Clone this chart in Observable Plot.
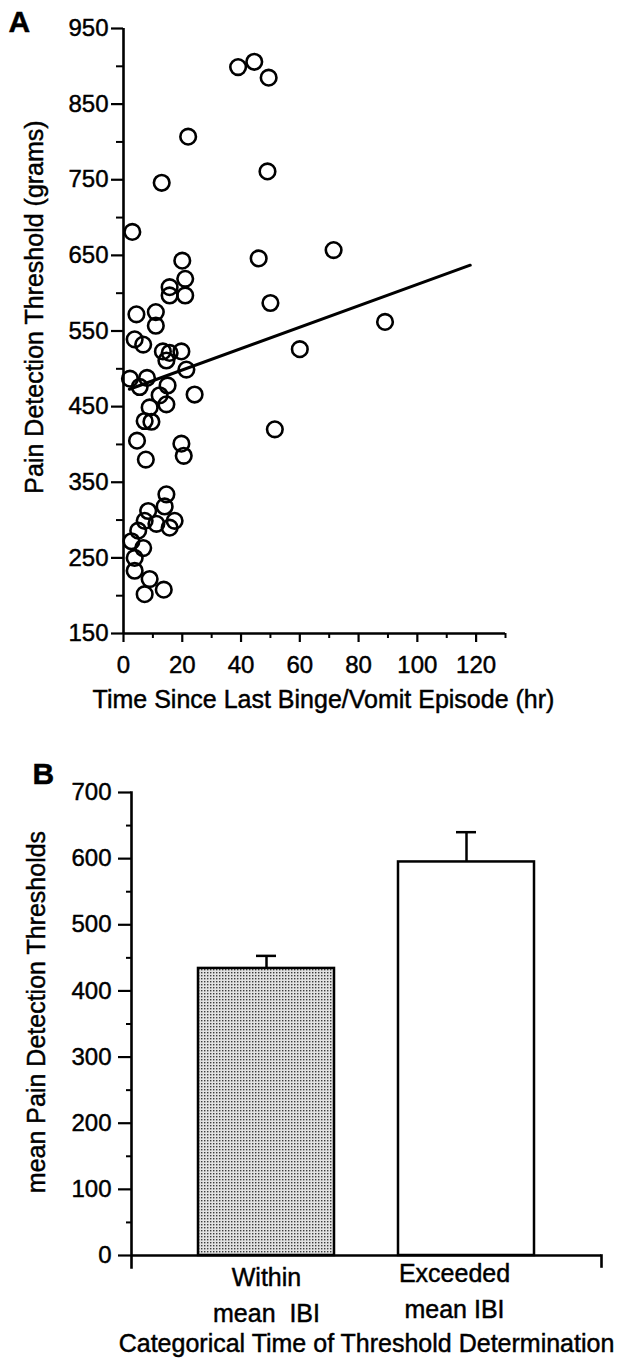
<!DOCTYPE html>
<html><head><meta charset="utf-8">
<script src="https://cdn.jsdelivr.net/npm/d3@7"></script>
<script src="https://cdn.jsdelivr.net/npm/@observablehq/plot@0.6"></script>
<style>
body{margin:0;background:#fff;}
#wrap{width:624px;height:1360px;overflow:hidden;}
svg{display:block;}
svg text{stroke:#000;stroke-width:0.45px;}
</style></head><body><div id="wrap"></div>
<script>
// ---- Panel A data ----
const hours = [39, 44.5, 49.4, 22, 49, 13, 3, 20, 46, 21, 15.7, 15.7, 21, 50, 4.4, 11, 11, 3.8, 6.7, 60,
  13.4, 15.7, 19.7, 14.6, 21.4, 2.2, 8, 5.5, 15, 12.3, 24.2, 14.6, 8.9, 7.2, 9.5, 51.5, 4.6, 19.7, 20.5, 7.6,
  14.6, 14, 8.4, 7.2, 17.4, 11.2, 15.7, 5, 2.7, 6.7, 3.8, 3.8, 8.9, 7.2, 13.7, 71.5, 89];
const thresholds = [899, 906, 885, 807, 761, 746, 681, 643, 646, 619, 608, 597, 597, 587, 572, 575, 557, 539, 532, 526,
  523, 521, 523, 511, 499, 487, 488, 476, 478, 465, 466, 453, 449, 431, 430, 420, 405, 401, 385, 380,
  334, 318, 312, 299, 299, 295, 290, 286, 272, 263, 250, 233, 222, 202, 208, 657, 562];
const fitHours = [2, 118];
const fitThresholds = [473, 637];
const yTicksA = [150, 250, 350, 450, 550, 650, 750, 850, 950];
const yMinorA = [200, 300, 400, 500, 600, 700, 800, 900];
const xTicksA = [0, 20, 40, 60, 80, 100, 120];
const xMinorA = [10, 30, 50, 70, 90, 110, 130];
const xLabelA = "Time Since Last Binge/Vomit Episode (hr)";
const yLabelA = "Pain Detection Threshold (grams)";

// ---- Panel B data ----
const groups = ["Within\nmean  IBI", "Exceeded\nmean IBI"];
const means = [434, 595];
const sems = [19, 45];
const yTicksB = [0, 100, 200, 300, 400, 500, 600, 700];
const yMinorB = [50, 150, 250, 350, 450, 550, 650];
const xLabelB = "Categorical Time of Threshold Determination";
const yLabelB = "mean Pain Detection Thresholds";

const font = "'Liberation Sans', Arial, Helvetica, sans-serif";
const ptsA = hours.map((h, i) => ({h, t: thresholds[i]}));
const fitA = fitHours.map((h, i) => ({h, t: fitThresholds[i]}));

const chartA = Plot.plot({
  width: 624, height: 720,
  marginLeft: 123, marginRight: 119, marginTop: 28, marginBottom: 87,
  style: {fontFamily: font, fontSize: "24px", color: "#000", background: "#fff", overflow: "visible"},
  x: {domain: [0, 130]},
  y: {domain: [150, 950]},
  marks: [
    Plot.ruleX([0], {y1: 150, y2: 950, strokeWidth: 2.6}),
    Plot.ruleY([150], {x1: 0, x2: 130, strokeWidth: 2.6}),
    Plot.axisY(yTicksA, {tickSize: 12, tickPadding: 3, strokeWidth: 2.2, fontSize: 24, label: null}),
    Plot.axisY(yMinorA, {tickSize: 7, strokeWidth: 2, tickFormat: () => "", label: null}),
    Plot.axisX(xTicksA, {tickSize: 9, tickPadding: 13, strokeWidth: 2.2, fontSize: 24, label: null}),
    Plot.axisX(xMinorA, {tickSize: 5, strokeWidth: 2, tickFormat: () => "", label: null}),
    Plot.line(fitA, {x: "h", y: "t", stroke: "#000", strokeWidth: 3}),
    Plot.dot(ptsA, {x: "h", y: "t", r: 7.8, stroke: "#000", strokeWidth: 2.6, fill: "none"}),
    Plot.text([xLabelA], {frameAnchor: "bottom", textAnchor: "middle", lineAnchor: "middle", dy: 66, dx: 9, fontSize: 25}),
    Plot.text([yLabelA], {frameAnchor: "left", textAnchor: "middle", lineAnchor: "middle", rotate: -90, dx: -89, dy: -24, fontSize: 25}),
    Plot.text(["A"], {frameAnchor: "top-left", dx: -115, dy: -18, textAnchor: "start", lineAnchor: "top", fontWeight: "bold", fontSize: 30})
  ]
});

const bars = groups.map((g, i) => ({g, m: means[i], e: sems[i]}));
const heightB = 640, mtB = 72, mbB = 105;
const chartB = Plot.plot({
  width: 624, height: heightB,
  marginLeft: 131, marginRight: 23, marginTop: mtB, marginBottom: mbB,
  style: {fontFamily: font, fontSize: "24px", color: "#000", background: "#fff", overflow: "visible"},
  x: {domain: groups, paddingInner: 0.32, paddingOuter: 0.335, align: 0.5, axis: null},
  y: {domain: [0, 700]},
  marks: [
    Plot.barY(bars, {filter: (d, i) => i === 0, x: "g", y: "m", fill: "url(#stipple)", stroke: "#000", strokeWidth: 2.5}),
    Plot.barY(bars, {filter: (d, i) => i === 1, x: "g", y: "m", fill: "#fff", stroke: "#000", strokeWidth: 2.5}),
    Plot.ruleX(bars, {x: "g", y1: "m", y2: d => d.m + d.e, strokeWidth: 2.5}),
    Plot.tickY(bars, {x: "g", y: d => d.m + d.e, insetLeft: 58, insetRight: 58, strokeWidth: 2.5}),
    Plot.ruleY([0], {strokeWidth: 2.6}),
    Plot.frame({anchor: "left", strokeWidth: 2.6, insetBottom: -12}),
    Plot.frame({anchor: "right", strokeWidth: 2.6, insetTop: heightB - mtB - mbB, insetBottom: -11}),
    Plot.axisY(yTicksB, {tickSize: 13, tickPadding: 7, strokeWidth: 2.2, fontSize: 24, label: null}),
    Plot.axisY(yMinorB, {tickSize: 5, strokeWidth: 2, tickFormat: () => "", label: null}),
    Plot.text(bars, {filter: (d, i) => i === 0, x: "g", y: 0, text: "g", dy: 5, lineAnchor: "top", lineHeight: 1.44, fontSize: 25}),
    Plot.text(bars, {filter: (d, i) => i === 1, x: "g", y: 0, text: "g", dy: 1, dx: -12, lineAnchor: "top", lineHeight: 1.44, fontSize: 25}),
    Plot.text([xLabelB], {frameAnchor: "bottom", textAnchor: "middle", lineAnchor: "middle", dy: 88, fontSize: 25}),
    Plot.text([yLabelB], {frameAnchor: "left", textAnchor: "middle", lineAnchor: "middle", rotate: -90, dx: -95, dy: -12, fontSize: 25}),
    Plot.text(["B"], {frameAnchor: "top-left", dx: -99, dy: -30, textAnchor: "start", lineAnchor: "top", fontWeight: "bold", fontSize: 30})
  ]
});

const ns = "http://www.w3.org/2000/svg";
const defs = document.createElementNS(ns, "defs");
defs.innerHTML = '<pattern id="stipple" width="3" height="3" patternUnits="userSpaceOnUse">' +
  '<rect width="3" height="3" fill="#e2e2e2"/><rect x="0" y="0" width="1.4" height="1.4" fill="#3c3c3c"/></pattern>';
chartB.insertBefore(defs, chartB.firstChild);

const wrap = document.getElementById("wrap");
wrap.appendChild(chartA);
wrap.appendChild(chartB);
</script>
</body></html>
